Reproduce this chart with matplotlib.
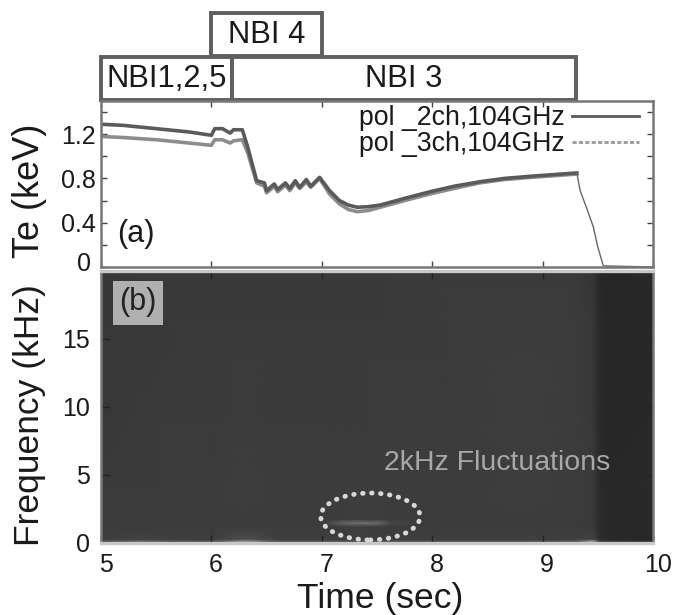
"""
Te traces and spectrogram with the NBI timing boxes above them
"""
import numpy as np
import matplotlib
matplotlib.use('Agg')
import matplotlib.pyplot as plt
from matplotlib.patches import Rectangle, Ellipse
from matplotlib.transforms import ScaledTranslation

plt.rcParams['font.family'] = ['Liberation Sans', 'DejaVu Sans']

# NBI timing boxes
nbi_labels = ['NBI1,2,5', 'NBI 3', 'NBI 4']
nbi_start = [5.0, 6.19, 6.0]
nbi_end = [6.19, 9.3, 7.0]
nbi_row = [0, 0, 1]

# Te traces
time_te = [5.0, 5.2, 5.5, 5.8, 6.0, 6.03, 6.1, 6.17, 6.2, 6.28, 6.33, 6.41, 6.48, 6.5,
           6.57, 6.6, 6.67, 6.71, 6.76, 6.8, 6.86, 6.9, 6.98, 7.07, 7.16, 7.24, 7.32, 7.42, 7.53,
           7.75, 7.98, 8.2, 8.43, 8.65, 8.89, 9.1, 9.31]
te_2ch = [1.29, 1.28, 1.25, 1.22, 1.19, 1.25, 1.25, 1.21, 1.24, 1.24, 1.08, 0.78, 0.76, 0.69,
          0.75, 0.70, 0.76, 0.71, 0.78, 0.72, 0.79, 0.73, 0.81, 0.69, 0.60, 0.56, 0.54, 0.545, 0.56,
          0.62, 0.68, 0.73, 0.77, 0.80, 0.82, 0.835, 0.85]
te_3ch = [1.18, 1.17, 1.15, 1.12, 1.10, 1.15, 1.15, 1.12, 1.14, 1.15, 1.03, 0.76, 0.73, 0.67,
          0.73, 0.68, 0.74, 0.69, 0.76, 0.71, 0.77, 0.72, 0.80, 0.66, 0.57, 0.52, 0.50, 0.51, 0.54,
          0.60, 0.66, 0.71, 0.76, 0.79, 0.81, 0.825, 0.84]
# collapse after the NBI ends, both channels on top of each other
time_fall = [9.31, 9.34, 9.40, 9.46, 9.50, 9.55, 10.0]
te_fall = [0.85, 0.69, 0.53, 0.36, 0.18, 0.01, 0.0]

# Spectrogram gray levels (0-255), coarse reading of the picture
spec_time = [5.0, 5.35, 5.7, 6.0, 6.3, 6.6, 7.0, 7.17, 7.3, 7.5, 7.62, 7.9, 8.3, 8.8, 9.3, 9.45, 9.52, 9.6, 10.0]
spec_freq = [0.05, 0.3, 1.2, 1.47, 1.75, 5.0, 10.0, 15.0, 20.0]
spec_gray = [
    [ 90, 115,  90,  90, 170,  85,  85,  85,  85,  85,  85,  85,  85,  85,  95, 190,  70,  55,  50],
    [ 62,  66,  62,  62,  78,  62,  62,  62,  64,  62,  62,  62,  62,  62,  62,  68,  45,  42,  40],
    [ 60,  60,  60,  60,  60,  60,  60,  60,  62,  62,  60,  60,  60,  60,  60,  58,  44,  40,  40],
    [ 60,  60,  60,  60,  60,  60,  60,  96, 112, 108,  72,  60,  60,  60,  60,  58,  44,  40,  40],
    [ 60,  60,  60,  60,  60,  60,  60,  60,  62,  62,  60,  60,  60,  60,  60,  58,  44,  40,  40],
    [ 58,  58,  60,  60,  62,  60,  60,  60,  60,  60,  60,  60,  60,  62,  60,  58,  42,  40,  42],
    [ 56,  58,  58,  58,  60,  58,  58,  58,  58,  60,  60,  60,  60,  62,  60,  56,  42,  38,  40],
    [ 56,  56,  58,  58,  58,  58,  58,  58,  58,  58,  58,  58,  60,  60,  60,  56,  42,  38,  40],
    [ 54,  56,  56,  56,  56,  56,  56,  56,  56,  56,  58,  58,  58,  58,  58,  54,  40,  38,  40],
]

x_ticks = [5, 6, 7, 8, 9, 10]
te_ticks = [0, 0.2, 0.4, 0.6, 0.8, 1.0, 1.2, 1.4]
te_ticklabels = ['0', '', '0.4', '', '0.8', '', '1.2', '']
freq_ticks = [0, 5, 10, 15]

W, H = 689.0, 615.0
def box(l, t, r, b):
    return [l/W, 1-b/H, (r-l)/W, (b-t)/H]

fig = plt.figure(figsize=(6.89, 6.15), dpi=100)
ax_nbi = fig.add_axes(box(101, 11, 653, 100))
ax_te = fig.add_axes(box(101, 101, 653, 267))
ax_sp = fig.add_axes(box(101, 271, 653, 543))

# NBI boxes
ax_nbi.set_xlim(5, 10)
ax_nbi.set_ylim(0, 2)
ax_nbi.axis('off')
for lab, s, e, r in zip(nbi_labels, nbi_start, nbi_end, nbi_row):
    ax_nbi.add_patch(Rectangle((s, r), e-s, 0.96, fc='white', ec='#5f5f5f', lw=2.8, clip_on=False))
    ax_nbi.text((s+e)/2, r+0.47, lab, ha='center', va='center', fontsize=22.3, color='#1a1a1a')

# Te panel
ax_te.plot(time_te, te_3ch, color='#8c8c8c', lw=2.6, label='pol _3ch,104GHz')
ax_te.plot(time_te, te_2ch, color='#5a5a5a', lw=2.6, label='pol _2ch,104GHz')
ax_te.plot(time_fall, te_fall, color='#666666', lw=1)
ax_te.set_xlim(5, 10)
ax_te.set_ylim(0, 1.5)
ax_te.set_xticks(x_ticks)
ax_te.set_xticklabels([])
ax_te.set_yticks(te_ticks)
ax_te.set_yticklabels(te_ticklabels, fontsize=18, color='#1a1a1a')
ax_te.tick_params(direction='in', top=True, right=True, length=4.5, width=1, color='#444444', pad=4)
# the 0 label sits a bit above its tick
lab0 = ax_te.get_yticklabels()[0]
lab0.set_transform(lab0.get_transform() + ScaledTranslation(-3/72, 4/72, fig.dpi_scale_trans))
ax_te.set_ylabel('Te (keV)', fontsize=26, color='#1a1a1a', va='baseline', ha='center', rotation_mode='anchor')
ax_te.yaxis.set_label_coords(-0.112, 0.458)
ax_te.text(5.15, 0.3, '(a)', fontsize=22, color='#1a1a1a', ha='left', va='center')

handles, labels = ax_te.get_legend_handles_labels()
ax_te.legend(handles[::-1], labels[::-1], loc='upper right', bbox_to_anchor=(0.999, 1.055), frameon=False,
             fontsize=19.2, markerfirst=False, labelspacing=0, handlelength=2.5,
             handletextpad=0.27, borderpad=0, labelcolor='#1a1a1a')
leg = ax_te.get_legend()
leg.get_lines()[0].set_linewidth(2)
leg.get_lines()[1].set_linewidth(2)
leg.get_lines()[1].set_linestyle((0, (1.5, 0.8)))
leg.get_lines()[1].set_color('#999999')

# Spectrogram panel
ax_sp.pcolormesh(spec_time, spec_freq, np.array(spec_gray), shading='gouraud', cmap='gray', vmin=0, vmax=255)
ax_sp.set_facecolor('#3c3c3c')
ax_sp.set_xlim(5, 10)
ax_sp.set_ylim(0, 20)
ax_sp.set_xticks(x_ticks)
ax_sp.set_yticks(freq_ticks)
ax_sp.tick_params(direction='in', top=True, right=True, length=6, width=1, color='#222222', pad=8, labelsize=18,
                  labelcolor='#1a1a1a')
ax_sp.tick_params(axis='x', pad=7)
for lab in ax_sp.get_xticklabels():
    lab.set_transform(lab.get_transform() + ScaledTranslation(3.3/72, 0, fig.dpi_scale_trans))
ax_sp.set_xlabel('Time (sec)', fontsize=25.5, color='#1a1a1a', va='baseline')
ax_sp.xaxis.set_label_coords(0.506, -0.24)
ax_sp.set_ylabel('Frequency (kHz)', fontsize=25.5, color='#1a1a1a', va='baseline', ha='center', rotation_mode='anchor')
ax_sp.yaxis.set_label_coords(-0.112, 0.469)
ax_sp.add_patch(Rectangle((0.0217, 0.80), 0.0906, 0.162, transform=ax_sp.transAxes, fc='#b0b0b0', ec='none'))
ax_sp.text(0.067, 0.886, '(b)', transform=ax_sp.transAxes, fontsize=22, color='#222222', ha='center', va='center')
ax_sp.text(7.56, 5.9, '2kHz Fluctuations', fontsize=20.5, color='#a8a8a8', ha='left', va='center')
ax_sp.add_patch(Ellipse((7.44, 1.95), 0.9, 3.45, fc='none', ec='#d8d8d8', lw=3.5, ls=(0, (0.1, 1.75)), capstyle='round'))

for ax in [ax_te, ax_sp]:
    for s in ax.spines.values():
        s.set_color('#777777')
        s.set_linewidth(1.8)
for s in ['top', 'bottom']:
    ax_sp.spines[s].set_color('#c8c8c8')
    ax_sp.spines[s].set_linewidth(2.4)

fig.savefig('out.png', dpi=100)
